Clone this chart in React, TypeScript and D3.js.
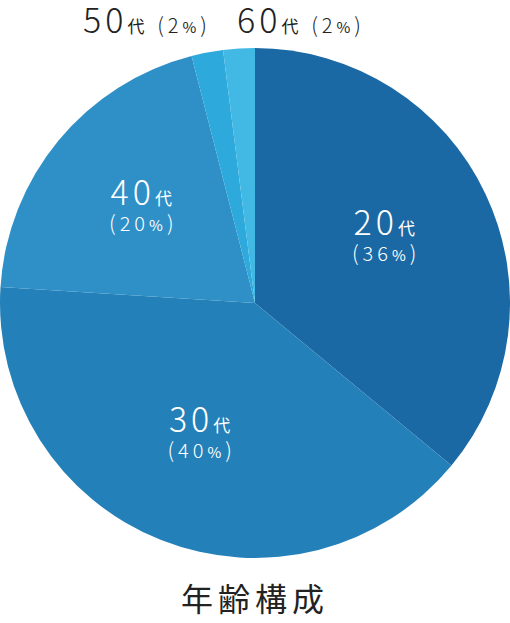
import React from 'react';
import * as d3 from 'd3';

const ages = ['20', '30', '40', '50', '60'];
const shares = [36, 40, 20, 2, 2];
const colors = ['#1b69a4', '#2480b9', '#2e90c7', '#2ea9dc', '#41b9e4'];
const inside = [true, true, true, false, false];
const title = '年齢構成';

const W = 510;
const H = 623;
const cx = 255;
const cy = 303;
const R = 255;
const font = '"Noto Sans CJK JP", "Noto Sans", sans-serif';

const App: React.FC = () => {
  const pie = d3
    .pie<number>()
    .sort(null)
    .value((d: number) => d);
  const arcs = pie(shares);
  const arc = d3.arc<d3.PieArcDatum<number>>().innerRadius(0).outerRadius(R);
  const labelArc = d3.arc<d3.PieArcDatum<number>>().innerRadius(145).outerRadius(145);

  // outside labels sit in a row above the pie
  const outerX = d3.scalePoint<string>().domain(['50', '60']).range([147, 301]);

  return (
    <svg width={W} height={H} style={{ position: 'absolute', left: 0, top: 0 }} fontFamily={font}>
      <g transform={`translate(${cx},${cy})`}>
        {arcs.map((a, i) => (
          <path key={ages[i]} d={arc(a) as string} fill={colors[i]} />
        ))}
        {arcs.map((a, i) => {
          if (!inside[i]) return null;
          const [x, y] = labelArc.centroid(a);
          return (
            <g key={'l' + ages[i]} transform={`translate(${x},${y - 6})`} fill="#fff" textAnchor="middle">
              <text y={0} letterSpacing={4}>
                <tspan fontSize={34} fontWeight={300}>{ages[i]}</tspan>
                <tspan fontSize={17}>代</tspan>
              </text>
              <text y={26} letterSpacing={4}>
                <tspan fontSize={21} fontWeight={300}>(</tspan>
                <tspan fontSize={20} fontWeight={300}>{shares[i]}</tspan>
                <tspan fontSize={15}>%</tspan>
                <tspan fontSize={21} fontWeight={300}>)</tspan>
              </text>
            </g>
          );
        })}
      </g>
      {ages.map((age, i) =>
        inside[i] ? null : (
          <text key={'o' + age} x={outerX(age)} y={33} textAnchor="middle" fill="#222" letterSpacing={4}>
            <tspan fontSize={34} fontWeight={300}>{age}</tspan>
            <tspan fontSize={17}>代</tspan>
            <tspan fontSize={21} fontWeight={300}> (</tspan>
            <tspan fontSize={20} fontWeight={300}>{shares[i]}</tspan>
            <tspan fontSize={15}>%</tspan>
            <tspan fontSize={21} fontWeight={300}>)</tspan>
          </text>
        )
      )}
      <text x={cx} y={611} textAnchor="middle" fontSize={32} fill="#222" letterSpacing={5}>
        {title}
      </text>
    </svg>
  );
};

export default App;
